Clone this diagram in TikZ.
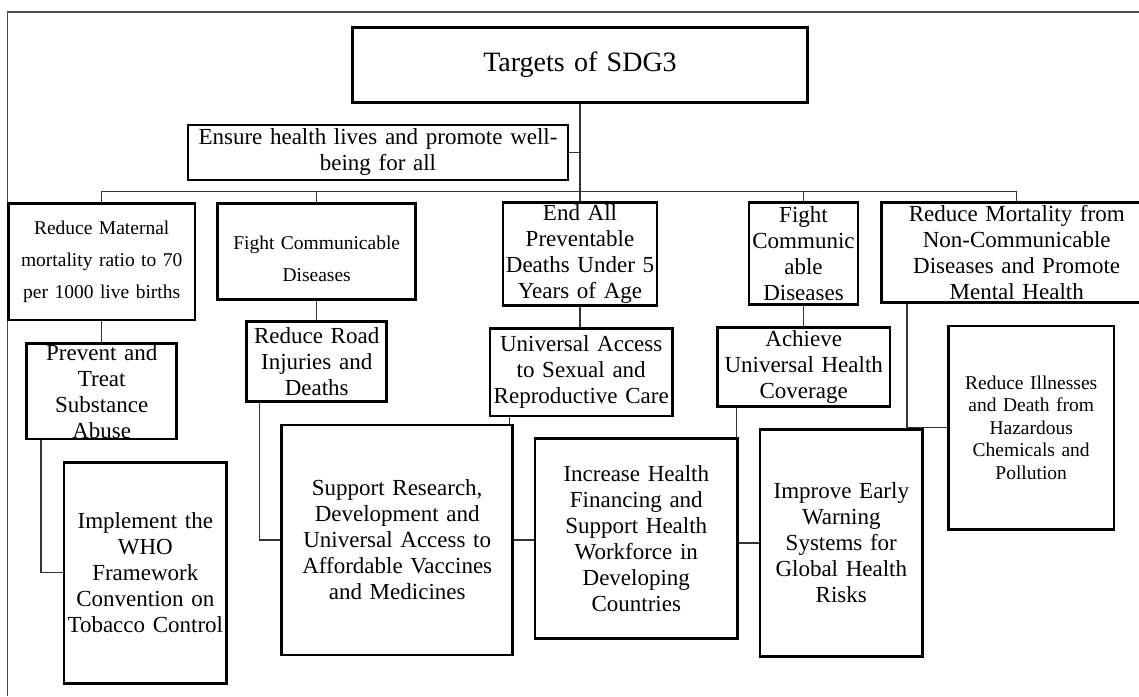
\documentclass[tikz,border=0pt]{standalone}
\usepackage{fontspec}
\setmainfont{Liberation Serif}
\tikzset{
    boite/.style={draw=black, line width=2.6pt, align=center, inner sep=0pt,
        font=\fontsize{23}{26}\selectfont},
    petit/.style={font=\fontsize{19.5}{32}\selectfont},
    lien/.style={draw=black!80, line width=1.3pt},
    cadre/.style={draw=black!70, line width=1.6pt},
}
\begin{document}
\begin{tikzpicture}[x=1pt, y=-1pt]
    % Cadre de la figure
    \useasboundingbox (0,0) rectangle (1139,696);
    \clip (0,0) rectangle (1139,696);
    \draw[cadre] (1139,11.7) -- (7.3,11.7) -- (7.3,696);

    % Titre et objectif
    \node[boite, text width=455pt, minimum height=75pt, font=\fontsize{28}{32}\selectfont]
        (titre) at (580,64.8) {Targets of SDG3};
    \node[boite, text width=380pt, minimum height=55pt]
        (assurer) at (378,152.5) {Ensure health lives and promote well-\\being for all};

    % Premiere rangee
    \node[boite, petit, text width=186.7pt, minimum height=116.7pt]
        (maternelle) at (101.7,261.7) {Reduce Maternal\\mortality ratio to 70\\per 1000 live births};
    \node[boite, petit, text width=198pt, minimum height=96pt]
        (transmissibles) at (316.7,251.3) {\rule{0pt}{29pt}Fight Communicable\\Diseases};
    \node[boite, text width=153.7pt, minimum height=103pt]
        (cinqans) at (580,254.2) {End All\\Preventable\\Deaths Under 5\\Years of Age};
    \node[boite, text width=109pt, minimum height=101.6pt]
        (transmissibles2) at (803.5,253.5) {Fight\\Communic\\able\\Diseases};
    \node[boite, text width=270pt, minimum height=99.6pt]
        (nontransmissibles) at (1016.7,252.5) {Reduce Mortality from\\Non-Communicable\\Diseases and Promote\\Mental Health};

    % Deuxieme rangee
    \node[boite, text width=150pt, minimum height=95.7pt]
        (prevenir) at (101.7,391.2) {Prevent and\\Treat\\Substance\\Abuse};
    \node[boite, text width=140pt, minimum height=80pt]
        (routes) at (316.7,361.7) {Reduce Road\\Injuries and\\Deaths};
    \node[boite, text width=182.3pt, minimum height=87.7pt]
        (universel) at (581.2,372.2) {Universal Access\\to Sexual and\\Reproductive Care};
    \node[boite, text width=172.7pt, minimum height=79.4pt]
        (couverture) at (803.7,367) {Achieve\\Universal Health\\Coverage};

    % Troisieme rangee
    \node[boite, text width=162.7pt, minimum height=221pt]
        (tabac) at (145.3,572.8) {Implement the\\WHO\\Framework\\Convention on\\Tobacco Control};
    \node[boite, text width=231pt, minimum height=230pt]
        (recherche) at (397.2,540) {Support Research,\\Development and\\Universal Access to\\Affordable Vaccines\\and Medicines};
    \node[boite, text width=202.7pt, minimum height=200pt]
        (financement) at (636.3,538.3) {Increase Health\\Financing and\\Support Health\\Workforce in\\Developing\\Countries};
    \node[boite, text width=162.7pt, minimum height=227.4pt]
        (alerte) at (841.3,543) {Improve Early\\Warning\\Systems for\\Global Health\\Risks};
    \node[boite, font=\fontsize{19.5}{22.5}\selectfont, text width=165.7pt, minimum height=203.5pt]
        (pollution) at (1031.2,427.8) {Reduce Illnesses\\and Death from\\Hazardous\\Chemicals and\\Pollution};

    % Barre horizontale
    \coordinate (bus) at (0,191.7);
    \draw[lien] (titre.south) -- (cinqans.north);
    \draw[lien] (assurer.east) -- (assurer.east -| titre.south);
    \draw[lien] (maternelle.north) |- (nontransmissibles.north |- bus) -- (nontransmissibles.north);
    \foreach \n in {transmissibles, transmissibles2}
        \draw[lien] (\n.north) -- (\n.north |- bus);

    % Liens verticaux
    \draw[lien] (maternelle.south) -- (prevenir.north);
    \draw[lien] (transmissibles.south) -- (routes.north);
    \draw[lien] (cinqans.south) -- (cinqans.south |- universel.north);
    \draw[lien] (transmissibles2.south) -- (transmissibles2.south |- couverture.north);

    % Liens vers la troisieme rangee
    \coordinate (p1) at ([xshift=15.6pt]prevenir.south west);
    \coordinate (r1) at ([xshift=14.3pt]routes.south west);
    \coordinate (u1) at ([xshift=-4.4pt]recherche.north east);
    \coordinate (c1) at ([xshift=-2.7pt]financement.north east);
    \coordinate (n1) at ([xshift=26.7pt]nontransmissibles.south west);
    \draw[lien] (p1) |- (tabac.west);
    \draw[lien] (r1) |- (recherche.west);
    \draw[lien] (u1) -- (u1 |- universel.south);
    \draw[lien] (c1) -- (c1 |- couverture.south);
    \draw[lien] (n1) |- (pollution.west);
    \draw[lien] (recherche.east) -- (recherche.east -| financement.west);
    \draw[lien] (alerte.west) -- (alerte.west -| financement.east);
\end{tikzpicture}
\end{document}
